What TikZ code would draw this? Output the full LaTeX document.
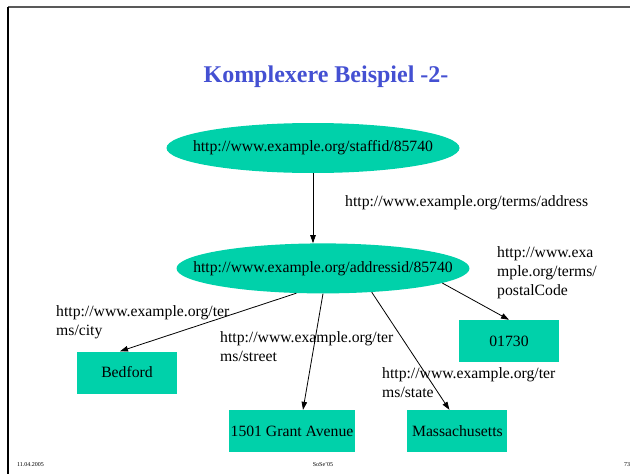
\documentclass[tikz,border=0pt]{standalone}
\usepackage{fontspec}
\setmainfont{Liberation Serif}
\usetikzlibrary{positioning,arrows.meta,shapes.geometric}
\definecolor{rdfgreen}{RGB}{0,209,170}
\definecolor{titleblue}{RGB}{68,80,210}

\begin{document}
\begin{tikzpicture}[
  x=1pt, y=-1pt,
  res/.style={ellipse, fill=rdfgreen, inner xsep=-30pt, inner ysep=0pt, minimum width=293pt, minimum height=50pt, font=\fontsize{15.7}{18.6}\selectfont},
  lit/.style={rectangle, fill=rdfgreen, inner sep=0pt, minimum height=42pt, font=\fontsize{15.7}{18.6}\selectfont},
  prop/.style={anchor=base west, align=left, inner sep=0pt, font=\fontsize{15.7}{18.6}\selectfont},
  foot/.style={inner sep=0pt, font=\fontsize{6}{7}\selectfont},
  >={Triangle[length=8pt,width=5.5pt]}
]
\useasboundingbox (0,0) rectangle (630,474);
% slide frame
\draw[gray!70!black, line width=1.6pt] (8,7) -- (630,7);
\draw[line width=1.2pt] (8,7) -- (8,474);
\node[font=\fontsize{24}{28}\selectfont\bfseries, text=titleblue, anchor=base] (title) at (326,82) {Komplexere Beispiel -2-};
\node[res] (staff) at (313,148) {http://www.example.org/staffid/85740};
\node[res, below=70pt of staff, xshift=10pt] (addr) {http://www.example.org/addressid/85740};
\node[lit, minimum width=100pt] (bedford) at (127,372.5) {Bedford};
\node[lit, minimum width=126pt] (grant) at (292,431) {1501 Grant Avenue};
\node[lit, minimum width=100pt, right=52pt of grant] (mass) {Massachusetts};
\node[lit, minimum width=100pt] (postal) at (509,341) {01730};
% property labels (anchored at the last line)
\node[prop] (paddress) at (345,206) {http://www.example.org/terms/address};
\node[prop] (pcity) at (56,335) {http://www.example.org/ter\\ms/city};
\node[prop] (pstreet) at (220,361) {http://www.example.org/ter\\ms/street};
\node[prop] (pstate) at (382,397) {http://www.example.org/ter\\ms/state};
\node[prop] (ppostal) at (497,295) {http://www.exa\\mple.org/terms/\\postalCode};
% footer
\node[foot, anchor=base west] (date) at (17,466) {11.04.2005};
\node[foot, anchor=base] (term) at (323,466) {SoSe'05};
\node[foot, anchor=base west] (page) at (624,466) {73};
\begin{scope}[line width=0.8pt]
\draw[->] (staff.south) -- (staff.south |- addr.north);
\draw[->] (addr.223) -- ([xshift=-7pt]bedford.north);
\draw[->] (addr.south) -- ([xshift=11pt]grant.north);
\draw[->] (addr.334) -- ([xshift=-8pt]mass.north);
\draw[->] (addr.353) -- (postal.north);
\end{scope}
\end{tikzpicture}
\end{document}
